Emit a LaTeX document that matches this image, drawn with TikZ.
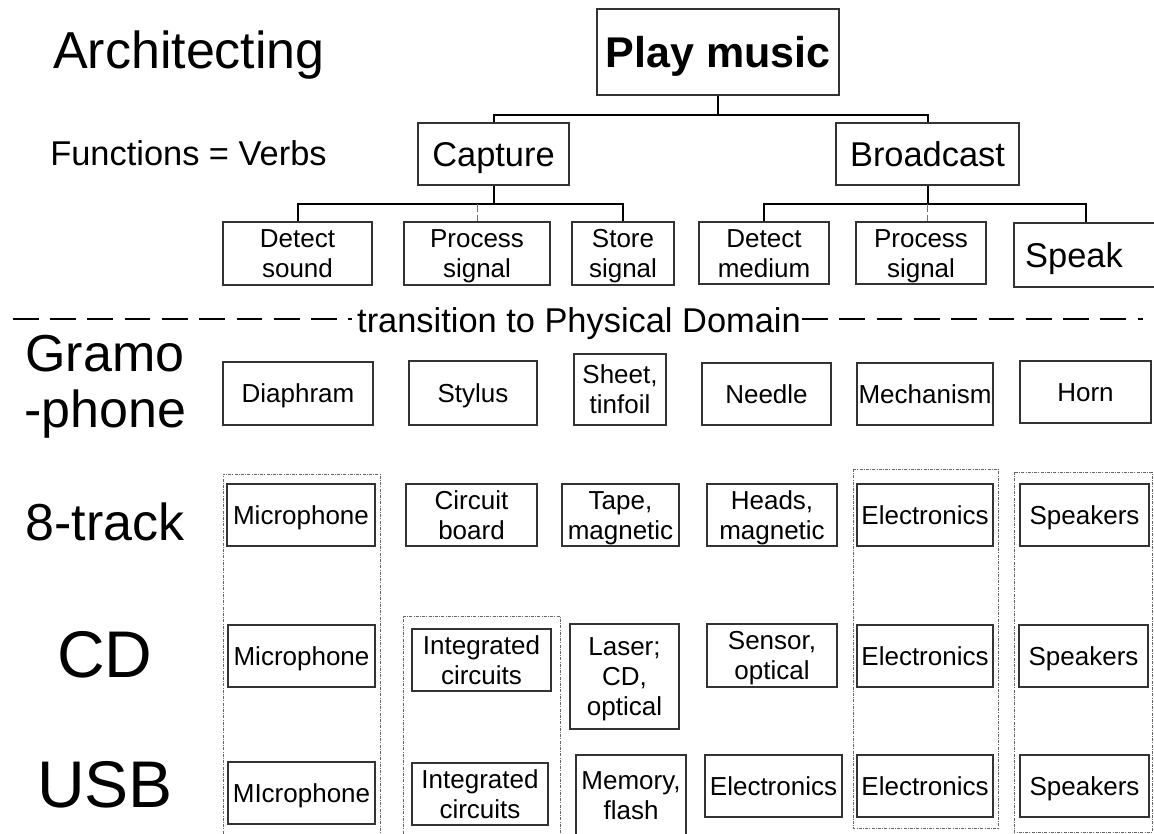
\documentclass[tikz,border=0pt]{standalone}
\usepackage{fontspec}
\setmainfont{Liberation Sans}
\newcommand\fsmall{\fontsize{26}{30}\selectfont}
\newcommand\fmid{\fontsize{34.4}{40}\selectfont}
\newcommand\fbig{\fontsize{52}{56}\selectfont}
\newcommand\fhuge{\fontsize{66}{76}\selectfont}
\newcommand\fplay{\bfseries\fontsize{43}{50}\selectfont}
% lines whose box runs from cap height of the first line to the last baseline,
% so the capitals sit centred in each box
\newcommand\capstrut{\rule{0pt}{0.716em}}
\newcommand\lA[1]{\capstrut\smash{#1}}
\newcommand\lB[2]{\capstrut\smash{#1}\\\smash{#2}}
\newcommand\lC[3]{\capstrut\smash{#1}\\\smash{#2}\\\smash{#3}}
\tikzset{
  fbox/.style={draw=black!80, line width=1.2pt, inner sep=0pt, align=center, font=\fsmall},
  conn/.style={line width=2pt, black},
  sub/.style={line width=1pt, black!55, dash pattern=on 8pt off 3pt},
  grp/.style={draw=black!60, line width=0.9pt, dash pattern=on 3pt off 1.2pt on 1pt off 1.2pt},
  sep/.style={line width=2.6pt, black, dash pattern=on 25.8pt off 11.5pt},
  lbl/.style={inner sep=0pt, align=center}
}
\begin{document}
\begin{tikzpicture}[x=1pt,y=-1pt]
\useasboundingbox (0,0) rectangle (1154,833);
\clip (0,0) rectangle (1154,833);

% headings
\node[lbl, anchor=base, font=\fbig] (arch) at (189,68) {Architecting};
\node[lbl, anchor=base, font=\fmid] (fv) at (188.5,165) {Functions = Verbs};

% function tree
\node[fbox, font=\fplay, minimum width=242, minimum height=86] (pm) at (718,52) {\lA{Play music}};
\node[fbox, font=\fmid, minimum width=151, minimum height=62] (cap) at (493.5,154) {\lA{Capture}};
\node[fbox, font=\fmid, minimum width=183, minimum height=62] (bc) at (927.5,154) {\lA{Broadcast}};

\node[fbox, minimum width=149, minimum height=63] (ds) at (297.5,253.5) {\lB{Detect}{sound}};
\node[fbox, minimum width=146, minimum height=63] (ps1) at (477,253.5) {\lB{Process}{signal}};
\node[fbox, minimum width=102, minimum height=63] (ss) at (623,253.5) {\lB{Store}{signal}};
\node[fbox, minimum width=130, minimum height=62] (dm) at (764,253) {\lB{Detect}{medium}};
\node[fbox, minimum width=130, minimum height=62] (ps2) at (921,253) {\lB{Process}{signal}};
\node[fbox, font=\fmid, minimum width=144, minimum height=64] (sp) at (1086,255) {\lA{\makebox[120pt]{Speak}\hspace*{24pt}}};

\coordinate (j0) at (718,115);
\coordinate (j1) at (493.5,204);
\coordinate (j2) at (927.5,204);
\draw[conn] (pm.south) -- (pm.south |- j0);
\draw[conn] (cap.north) -- (cap.north |- j0) -- (bc.north |- j0) -- (bc.north);
\draw[conn] (cap.south) -- (cap.south |- j1);
\draw[conn] (ds.north) -- (ds.north |- j1) -- (ss.north |- j1) -- (ss.north);
\draw[sub] (ps1.north |- j1) -- (ps1.north);
\draw[conn] (bc.south) -- (bc.south |- j2);
\draw[conn] (dm.north) -- (dm.north |- j2) -- (sp.north |- j2) -- (sp.north);
\draw[sub] (bc.south |- j2) -- (bc.south |- ps2.north);

% divider between functional and physical domains
\node[lbl, anchor=base west, font=\fmid] (tr) at (357,332) {transition to Physical Domain};
\coordinate (sa) at (12.7,319);
\coordinate (sb) at (352,319);
\coordinate (sc) at (802,319);
\coordinate (sd) at (1142.5,319);
\draw[sep] (sa) -- (sb);
\draw[sep] (sc) -- (sd);

% row labels
\node[lbl, font=\fbig] (gram) at (105,386.6) {Gramo\\-phone};
\node[lbl, anchor=base, font=\fbig] (trk) at (105,540) {8-track};
\node[lbl, anchor=base, font=\fhuge] (cd) at (105,677) {CD};
\node[lbl, anchor=base, font=\fhuge] (usb) at (105,807) {USB};

% groups of shared components
\draw[grp] (223,840) -- (223,474) -- (380,474) -- (380,840);
\draw[grp] (403,840) -- (403,616) -- (560,616) -- (560,840);
\draw[grp] (853,469) rectangle (998,828);
\draw[grp] (1014,472) rectangle (1152,832);

% gramophone
\node[fbox, minimum width=150, minimum height=63] (dia) at (298,393.5) {\lA{Diaphram}};
\node[fbox, minimum width=128, minimum height=64] (sty) at (473,393) {\lA{Stylus}};
\node[fbox, minimum width=92, minimum height=71] (sht) at (620,389.5) {\lB{Sheet,}{tinfoil}};
\node[fbox, minimum width=129, minimum height=62] (ndl) at (766.5,394) {\lA{Needle}};
\node[fbox, minimum width=136, minimum height=62] (mec) at (925,394) {\lA{Mechanism}};
\node[fbox, minimum width=131, minimum height=62] (hrn) at (1085.5,392) {\lA{Horn}};

% 8-track
\node[fbox, minimum width=148, minimum height=62] (mic1) at (301,515) {\lA{Microphone}};
\node[fbox, minimum width=131, minimum height=62] (cb) at (471.5,515) {\lB{Circuit}{board}};
\node[fbox, minimum width=117, minimum height=62] (tape) at (620.5,515) {\lB{Tape,}{magnetic}};
\node[fbox, minimum width=130, minimum height=62] (hds) at (772,515) {\lB{Heads,}{magnetic}};
\node[fbox, minimum width=136, minimum height=62] (el1) at (925,515) {\lA{Electronics}};
\node[fbox, minimum width=129, minimum height=62] (spk1) at (1084.5,515) {\lA{Speakers}};

% CD
\node[fbox, minimum width=147, minimum height=62] (mic2) at (301.5,656) {\lA{Microphone}};
\node[fbox, minimum width=139, minimum height=62] (ic1) at (481.5,660) {\lB{Integrated}{circuits}};
\node[fbox, minimum width=109, minimum height=105] (las) at (624.5,676.5) {\lC{Laser;}{CD,}{optical}};
\node[fbox, minimum width=130, minimum height=63] (sen) at (772,655.5) {\lB{Sensor,}{optical}};
\node[fbox, minimum width=136, minimum height=62] (el2) at (925,656) {\lA{Electronics}};
\node[fbox, minimum width=129, minimum height=62] (spk2) at (1083.5,656) {\lA{Speakers}};

% USB
\node[fbox, minimum width=147, minimum height=62] (mic3) at (301.5,793) {\lA{MIcrophone}};
\node[fbox, minimum width=136, minimum height=62] (ic2) at (480,794) {\lB{Integrated}{circuits}};
\node[fbox, minimum width=110, minimum height=80] (mem) at (631,795) {\lB{Memory,}{flash}};
\node[fbox, minimum width=137, minimum height=62] (el3) at (773.5,786) {\lA{Electronics}};
\node[fbox, minimum width=136, minimum height=62] (el4) at (925,786) {\lA{Electronics}};
\node[fbox, minimum width=129, minimum height=62] (spk3) at (1084.5,786) {\lA{Speakers}};
\end{tikzpicture}
\end{document}
